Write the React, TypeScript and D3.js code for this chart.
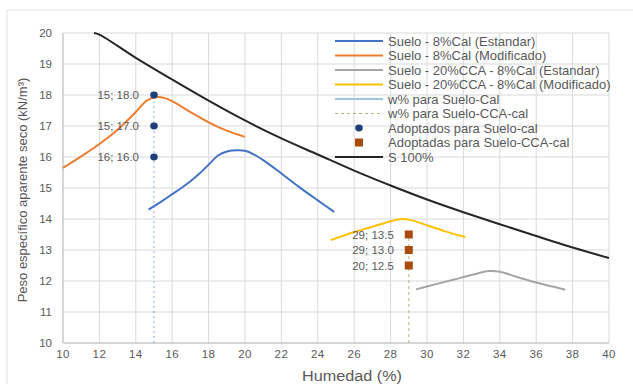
import React from "react";
import * as d3 from "d3";

type P = [number, number];

const suelo8Std: P[] = [[14.7,14.3],[15.5,14.6],[16,14.8],[16.5,15.0],[17,15.22],[17.5,15.47],[18,15.75],[18.5,16.04],[19,16.18],[19.6,16.22],[20,16.2],[20.5,16.08],[21,15.9],[22,15.47],[23,15.02],[24,14.6],[24.9,14.23]];
const suelo8Mod: P[] = [[10,15.65],[11,16.02],[12,16.42],[13,16.88],[14,17.45],[14.6,17.82],[15.1,17.93],[15.6,17.9],[16,17.8],[17,17.45],[18,17.12],[19,16.85],[20,16.65]];
const cca8Std: P[] = [[29.4,11.73],[30.5,11.9],[31.5,12.05],[32.5,12.2],[33.4,12.32],[34,12.3],[35,12.12],[36,11.95],[37.6,11.72]];
const cca8Mod: P[] = [[24.7,13.32],[25.5,13.48],[26,13.58],[27,13.75],[28,13.93],[28.6,14.0],[29,13.98],[30,13.8],[31,13.6],[32.1,13.42]];
const sat100: P[] = [[11.7,20.0],[12,19.95],[14,19.2],[16,18.5],[18,17.82],[20,17.18],[22,16.6],[24,16.08],[26,15.56],[28,15.08],[30,14.63],[32,14.22],[34,13.83],[36,13.45],[38,13.08],[40,12.74]];
const wSueloCal: P[] = [[15,10],[15,18]];
const wSueloCcaCal: P[] = [[29,10],[29,13.5]];
const adoptCal: P[] = [[15,18],[15,17],[15,16]];
const adoptCalLabels = ["15; 18.0", "15; 17.0", "16; 16.0"];
const adoptCca: P[] = [[29,13.5],[29,13],[29,12.5]];
const adoptCcaLabels = ["29; 13.5", "29; 13.0", "20; 12.5"];

const xTicks = [10,12,14,16,18,20,22,24,26,28,30,32,34,36,38,40];
const yTicks = [10,11,12,13,14,15,16,17,18,19,20];

const legendItems = [
  { label: "Suelo - 8%Cal (Estandar)", kind: "line", color: "#4472C4" },
  { label: "Suelo - 8%Cal (Modificado)", kind: "line", color: "#ED7D31" },
  { label: "Suelo - 20%CCA - 8%Cal (Estandar)", kind: "line", color: "#A5A5A5" },
  { label: "Suelo - 20%CCA - 8%Cal (Modificado)", kind: "line", color: "#FFC000" },
  { label: "w% para Suelo-Cal", kind: "line", color: "#9DC3E6" },
  { label: "w% para Suelo-CCA-cal", kind: "dash", color: "#B8B27A" },
  { label: "Adoptados para Suelo-cal", kind: "dot", color: "#1F3F7A" },
  { label: "Adoptadas para Suelo-CCA-cal", kind: "square", color: "#A94A0E" },
  { label: "S 100%", kind: "line", color: "#262626" },
];

export default function App() {
  const W = 633, H = 384;
  const x = d3.scaleLinear().domain([10, 40]).range([63, 609]);
  const y = d3.scaleLinear().domain([10, 20]).range([343, 33]);
  const line = d3.line<P>().x(d => x(d[0])).y(d => y(d[1])).curve(d3.curveCatmullRom.alpha(0.5));
  const straight = d3.line<P>().x(d => x(d[0])).y(d => y(d[1]));
  const font = "'Liberation Sans', Arial, sans-serif";
  const txt = "#595959";
  return (
    <svg width={W} height={H} style={{ position: "absolute", left: 0, top: 0, fontFamily: font }}>
      <rect x={0} y={0} width={W} height={H} fill="#fff" />
      <rect x={7} y={10} width={700} height={400} fill="none" stroke="#e3e3e3" />
      {yTicks.map(t => (
        <line key={"gy" + t} x1={x(10)} x2={x(40)} y1={y(t)} y2={y(t)} stroke="#d9d9d9" strokeWidth={1} />
      ))}
      {xTicks.map(t => (
        <line key={"gx" + t} x1={x(t)} x2={x(t)} y1={y(10)} y2={y(20)} stroke="#d9d9d9" strokeWidth={1} />
      ))}
      <line x1={x(10)} x2={x(40)} y1={y(10)} y2={y(10)} stroke="#bfbfbf" />
      <line x1={x(10)} x2={x(10)} y1={y(10)} y2={y(20)} stroke="#bfbfbf" />
      {yTicks.map(t => (
        <text key={"ty" + t} x={52} y={y(t) + 4} textAnchor="end" fontSize={11.5} fill={txt}>{t}</text>
      ))}
      {xTicks.map(t => (
        <text key={"tx" + t} x={x(t)} y={358} textAnchor="middle" fontSize={11.5} fill={txt} letterSpacing={0.4}>{t}</text>
      ))}
      <text x={352} y={381} textAnchor="middle" fontSize={14} fill={txt} textLength={100} lengthAdjust="spacingAndGlyphs">Humedad (%)</text>
      <text transform={`translate(27,${y(15) + 2}) rotate(-90)`} textAnchor="middle" fontSize={13} fill={txt}>Peso específico aparente seco (kN/m³)</text>

      <path d={straight(wSueloCal)!} fill="none" stroke="#8FAADC" strokeWidth={1} strokeDasharray="2,3" />
      <path d={straight(wSueloCcaCal)!} fill="none" stroke="#B8B27A" strokeWidth={1} strokeDasharray="3,3" />

      <path d={line(suelo8Std)!} fill="none" stroke="#4472C4" strokeWidth={2} />
      <path d={line(suelo8Mod)!} fill="none" stroke="#ED7D31" strokeWidth={2} />
      <path d={line(cca8Std)!} fill="none" stroke="#A5A5A5" strokeWidth={2} />
      <path d={line(cca8Mod)!} fill="none" stroke="#FFC000" strokeWidth={2} />
      <path d={line(sat100)!} fill="none" stroke="#262626" strokeWidth={2} />

      {adoptCal.map((d, i) => (
        <g key={"ac" + i}>
          <ellipse cx={x(d[0])} cy={y(d[1])} rx={3.8} ry={3.4} fill="#1F3F7A" />
          <text x={x(d[0]) - 15} y={y(d[1]) + 4} textAnchor="end" fontSize={11.5} fill={txt}>{adoptCalLabels[i]}</text>
        </g>
      ))}
      {adoptCca.map((d, i) => (
        <g key={"acc" + i}>
          <rect x={x(d[0]) - 4} y={y(d[1]) - 4} width={8} height={8} fill="#A94A0E" />
          <text x={x(d[0]) - 15} y={y(d[1]) + 4} textAnchor="end" fontSize={11.5} fill={txt}>{adoptCcaLabels[i]}</text>
        </g>
      ))}

      {legendItems.map((it, i) => {
        const ly = 41 + i * 14.5;
        return (
          <g key={"lg" + i}>
            {it.kind === "line" && <line x1={335} x2={383} y1={ly} y2={ly} stroke={it.color} strokeWidth={2} />}
            {it.kind === "dash" && <line x1={335} x2={383} y1={ly} y2={ly} stroke={it.color} strokeWidth={1} strokeDasharray="3,3" />}
            {it.kind === "dot" && <ellipse cx={359} cy={ly} rx={3.8} ry={3.4} fill={it.color} />}
            {it.kind === "square" && <rect x={355} y={ly - 4} width={8} height={8} fill={it.color} />}
            <text x={388} y={ly + 4.5} fontSize={13} fill={txt}>{it.label}</text>
          </g>
        );
      })}
    </svg>
  );
}
